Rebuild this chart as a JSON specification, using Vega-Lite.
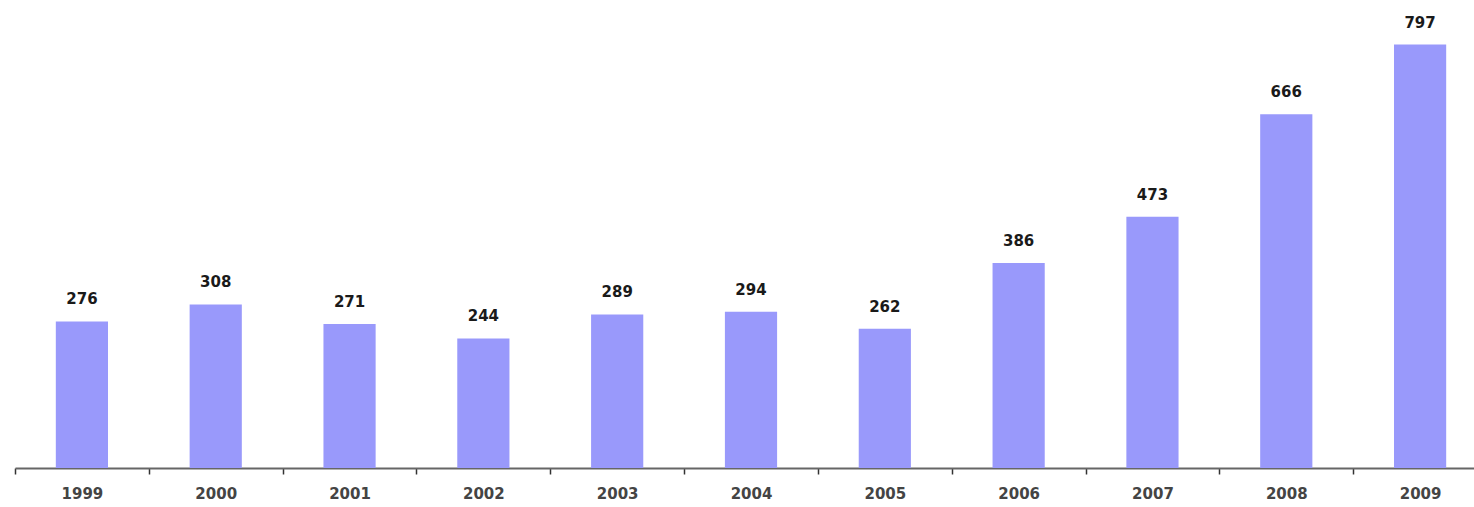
{
  "$schema": "https://vega.github.io/schema/vega-lite/v6.json",
  "autosize": {"type": "none"},
  "width": 1472,
  "height": 425,
  "padding": {"left": 15, "top": 43, "right": 0, "bottom": 39},
  "background": "white",
  "data": {"values": [
    {"year": "1999", "value": 276},
    {"year": "2000", "value": 308},
    {"year": "2001", "value": 271},
    {"year": "2002", "value": 244},
    {"year": "2003", "value": 289},
    {"year": "2004", "value": 294},
    {"year": "2005", "value": 262},
    {"year": "2006", "value": 386},
    {"year": "2007", "value": 473},
    {"year": "2008", "value": 666},
    {"year": "2009", "value": 797}
  ]},
  "config": {"view": {"stroke": null}},
  "encoding": {
    "x": {
      "field": "year", "type": "ordinal",
      "scale": {"paddingInner": 0, "paddingOuter": 0},
      "axis": {
        "title": null, "labelAngle": 0, "grid": false,
        "domainColor": "#666666", "domainWidth": 2,
        "tickBand": "extent", "tickColor": "#333333", "tickSize": 6, "tickWidth": 1.5,
        "labelFont": "DejaVu Sans", "labelFontWeight": "bold", "labelFontSize": 15,
        "labelColor": "#444444", "labelPadding": 12
      }
    },
    "y": {
      "field": "value", "type": "quantitative",
      "scale": {"domain": [0, 800], "nice": false},
      "axis": null
    }
  },
  "layer": [
    {"mark": {"type": "bar", "color": "#9999fb", "width": {"band": 0.39}}},
    {
      "mark": {"type": "text", "baseline": "bottom", "dy": -14, "font": "DejaVu Sans", "fontWeight": "bold", "fontSize": 15, "color": "#1a1a1a"},
      "encoding": {"text": {"field": "value", "type": "quantitative"}}
    }
  ]
}
